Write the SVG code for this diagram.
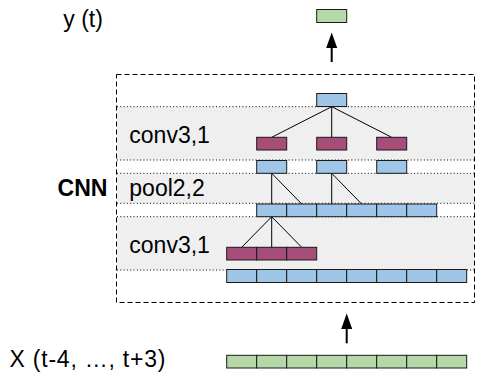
<svg xmlns="http://www.w3.org/2000/svg" width="477" height="377" viewBox="0 0 477 377">
<style>
.t{font-family:"Liberation Sans",Arial,sans-serif;font-size:23px;fill:#000}
.b{font-weight:bold}
.band{fill:#efefef}
.dot{stroke:#000;stroke-width:1;stroke-dasharray:1,2.3;fill:none}
.dash{stroke:#000;stroke-width:1;stroke-dasharray:5,3;fill:none}
.blue{fill:#9fc5e8;stroke:#1a1a1a;stroke-width:1}
.mag{fill:#a64d79;stroke:#1a1a1a;stroke-width:1}
.grn{fill:#b6d7a8;stroke:#1a1a1a;stroke-width:1}
.ln{stroke:#000;stroke-width:1;fill:none}
.arw{stroke:#000;stroke-width:2;fill:none}
</style>
<g id="bands">
<rect class="band" x="116.5" y="106.7" width="358" height="53.3"/>
<rect class="band" x="116.5" y="173.3" width="358" height="30"/>
<rect class="band" x="116.5" y="216.7" width="358" height="53.3"/>
<line class="dot" x1="117" y1="106.7" x2="474.5" y2="106.7"/>
<line class="dot" x1="117" y1="160" x2="474.5" y2="160"/>
<line class="dot" x1="117" y1="173.3" x2="474.5" y2="173.3"/>
<line class="dot" x1="117" y1="203.3" x2="474.5" y2="203.3"/>
<line class="dot" x1="117" y1="216.7" x2="474.5" y2="216.7"/>
<line class="dot" x1="117" y1="270" x2="474.5" y2="270"/>
</g>
<g id="cnn-frame">
<rect class="dash" x="116.5" y="74.5" width="358" height="228"/>
</g>
<g id="labels">
<text class="t" x="63.3" y="26.5">y (t)</text>
<text class="t" x="129.3" y="143.3">conv3,1</text>
<text class="t" x="129.3" y="195.5">pool2,2</text>
<text class="t b" x="57.5" y="196" textLength="50" lengthAdjust="spacingAndGlyphs">CNN</text>
<text class="t" x="129.3" y="253.3">conv3,1</text>
<text class="t" x="9.5" y="367" textLength="156" lengthAdjust="spacing">X (t-4, …, t+3)</text>
</g>
<g id="connectors">
<line class="ln" x1="331.7" y1="106.7" x2="271.7" y2="137.3"/>
<line class="ln" x1="331.7" y1="106.7" x2="331.7" y2="137.3"/>
<line class="ln" x1="331.7" y1="106.7" x2="391.7" y2="137.3"/>
<line class="ln" x1="271.7" y1="173.3" x2="271.7" y2="204"/>
<line class="ln" x1="271.7" y1="173.3" x2="301.7" y2="204"/>
<line class="ln" x1="331.7" y1="173.3" x2="331.7" y2="204"/>
<line class="ln" x1="331.7" y1="173.3" x2="361.7" y2="204"/>
<line class="ln" x1="271.7" y1="216.7" x2="241.7" y2="247.3"/>
<line class="ln" x1="271.7" y1="216.7" x2="271.7" y2="247.3"/>
<line class="ln" x1="271.7" y1="216.7" x2="301.7" y2="247.3"/>
<line class="arw" x1="331.7" y1="62" x2="331.7" y2="45"/>
<polygon points="331.7,32.5 326.2,48 337.2,48" fill="#000"/>
<line class="arw" x1="346.7" y1="343.3" x2="346.7" y2="326"/>
<polygon points="346.7,313.5 341.2,329 352.2,329" fill="#000"/>
</g>
<g id="output">
<rect class="grn" x="316.7" y="9.5" width="30" height="13"/>
</g>
<g id="conv2-out">
<rect class="blue" x="316.7" y="93.5" width="30" height="13"/>
</g>
<g id="conv2-filters">
<rect class="mag" x="256.7" y="137.3" width="30" height="12.7"/>
<rect class="mag" x="316.7" y="137.3" width="30" height="12.7"/>
<rect class="mag" x="376.7" y="137.3" width="30" height="12.7"/>
</g>
<g id="pool-out">
<rect class="blue" x="256.7" y="160.5" width="30" height="12.8"/>
<rect class="blue" x="316.7" y="160.5" width="30" height="12.8"/>
<rect class="blue" x="376.7" y="160.5" width="30" height="12.8"/>
</g>
<g id="conv1-out">
<rect class="blue" x="256.7" y="204" width="30" height="12.7"/>
<rect class="blue" x="286.7" y="204" width="30" height="12.7"/>
<rect class="blue" x="316.7" y="204" width="30" height="12.7"/>
<rect class="blue" x="346.7" y="204" width="30" height="12.7"/>
<rect class="blue" x="376.7" y="204" width="30" height="12.7"/>
<rect class="blue" x="406.7" y="204" width="30" height="12.7"/>
</g>
<g id="conv1-filter">
<rect class="mag" x="226.7" y="247.3" width="30" height="12.7"/>
<rect class="mag" x="256.7" y="247.3" width="30" height="12.7"/>
<rect class="mag" x="286.7" y="247.3" width="30" height="12.7"/>
</g>
<g id="input-layer">
<rect class="blue" x="226.7" y="269.5" width="30" height="13"/>
<rect class="blue" x="256.7" y="269.5" width="30" height="13"/>
<rect class="blue" x="286.7" y="269.5" width="30" height="13"/>
<rect class="blue" x="316.7" y="269.5" width="30" height="13"/>
<rect class="blue" x="346.7" y="269.5" width="30" height="13"/>
<rect class="blue" x="376.7" y="269.5" width="30" height="13"/>
<rect class="blue" x="406.7" y="269.5" width="30" height="13"/>
<rect class="blue" x="436.7" y="269.5" width="30" height="13"/>
</g>
<g id="input">
<rect class="grn" x="226.7" y="355.3" width="30" height="12.7"/>
<rect class="grn" x="256.7" y="355.3" width="30" height="12.7"/>
<rect class="grn" x="286.7" y="355.3" width="30" height="12.7"/>
<rect class="grn" x="316.7" y="355.3" width="30" height="12.7"/>
<rect class="grn" x="346.7" y="355.3" width="30" height="12.7"/>
<rect class="grn" x="376.7" y="355.3" width="30" height="12.7"/>
<rect class="grn" x="406.7" y="355.3" width="30" height="12.7"/>
<rect class="grn" x="436.7" y="355.3" width="30" height="12.7"/>
</g>
</svg>
